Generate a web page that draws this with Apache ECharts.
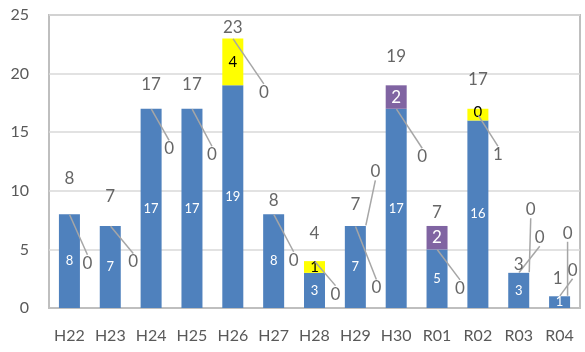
<!DOCTYPE html>
<html>
<head>
<meta charset="utf-8">
<script src="https://cdn.jsdelivr.net/npm/echarts@6/dist/echarts.min.js"></script>
<style>
  html, body { margin: 0; padding: 0; background: #fff; }
  #chart { width: 585px; height: 352px; }
</style>
</head>
<body>
<div id="chart"></div>
<script>
  const categories = ['H22', 'H23', 'H24', 'H25', 'H26', 'H27', 'H28', 'H29', 'H30', 'R01', 'R02', 'R03', 'R04'];
  const blueValues = [8, 7, 17, 17, 19, 8, 3, 7, 17, 5, 16, 3, 1];
  const yellowValues = [0, 0, 0, 0, 4, 0, 1, 0, 0, 0, 0, 0, 0];
  const calloutValues = [0, 0, 0, 0, 0, 0, 0, 0, 0, 0, 1, 0, 0];
  const purpleValues = [0, 0, 0, 0, 0, 0, 0, 0, 2, 2, 0, 0, 0];
  const extraValues = [null, null, null, null, null, null, null, 0, null, null, null, 0, 0];
  const yMin = 0, yMax = 25, yStep = 5;

  const totals = categories.map((c, i) => blueValues[i] + yellowValues[i] + calloutValues[i] + purpleValues[i]);
  // callout labels hang from the middle of their (mostly empty) segment
  const calloutAnchor = categories.map((c, i) => blueValues[i] + yellowValues[i] + calloutValues[i] / 2);
  // the extra zero labels hang from the top of the full stack
  const extraAnchor = extraValues.map((v, i) => (v === null ? null : totals[i] + v));

  // label nudges (px) to follow the original's label placement
  const totalShift = [[0, -36], [0, -29], [0, -24], [0, -24], [0, -11], [0, -14], [0, -28], [0, -21], [0, -29], [0, -13], [0, -29], [0, -8], [-2, -18]];
  const calloutShift = [[18, 49], [23, 36], [18, 40], [20, 46], [31, 54], [20, 46], [21, 33], [21, 62], [26, 48], [23, 39], [20, 40], [21, -35], [13, -26]];
  const extraShift = { 7: [20, -54], 11: [12, -63], 12: [8, -63] };

  const font = 'Lato, "Liberation Sans", sans-serif';
  const leader = { show: true, lineStyle: { color: '#a6a6a6', width: 1.5 } };
  const darkLabel = { color: '#404040', fontSize: 17, fontFamily: font, textBorderWidth: 0 };

  const chart = echarts.init(document.getElementById('chart'));
  chart.setOption({
    animation: false,
    backgroundColor: '#fff',
    textStyle: { fontFamily: font },
    grid: {
      left: 49, right: 5, top: 15, bottom: 44,
      show: true, borderColor: '#bfbfbf', borderWidth: 2
    },
    xAxis: {
      type: 'category',
      data: categories,
      axisTick: { show: false },
      axisLine: { lineStyle: { color: '#bfbfbf', width: 2 } },
      axisLabel: { color: '#595959', fontSize: 16, margin: 20, fontFamily: font }
    },
    yAxis: {
      type: 'value',
      min: yMin, max: yMax, interval: yStep,
      axisLine: { show: false },
      axisTick: { show: false },
      axisLabel: { color: '#595959', fontSize: 16, margin: 20, fontFamily: font },
      splitLine: { lineStyle: { color: '#d9d9d9', width: 1.5 } }
    },
    series: [
      {
        name: 'blue', type: 'bar', stack: 'a', barWidth: 21,
        data: blueValues,
        itemStyle: { color: '#4f81bd' },
        label: { show: true, position: 'inside', color: '#fff', fontSize: 13, fontFamily: font }
      },
      {
        name: 'yellow', type: 'bar', stack: 'a',
        data: yellowValues.map((v, i) => ({
          value: v,
          label: { show: v > 0 || calloutValues[i] > 0 }
        })),
        itemStyle: { color: '#ffff00' },
        label: { position: 'inside', color: '#000', fontSize: 15, fontFamily: font },
        labelLayout: p => (yellowValues[p.dataIndex] === 0 ? { dy: -8 } : {})
      },
      {
        name: 'callout', type: 'bar', stack: 'a',
        data: calloutValues,
        itemStyle: { color: '#ffff00' }
      },
      {
        name: 'purple', type: 'bar', stack: 'a',
        data: purpleValues.map(v => ({ value: v, label: { show: v > 0 } })),
        itemStyle: { color: '#8064a2' },
        label: { position: 'inside', color: '#fff', fontSize: 17, fontFamily: font }
      },
      {
        name: 'extra', type: 'scatter',
        data: extraAnchor,
        symbol: 'rect',
        symbolSize: [21, 1],
        itemStyle: { color: 'rgba(0,0,0,0)' },
        label: Object.assign({
          show: true, position: 'inside',
          formatter: p => String(extraValues[p.dataIndex])
        }, darkLabel),
        labelLine: leader,
        labelLayout: p => {
          const s = extraShift[p.dataIndex] || [0, 0];
          return { dx: s[0], dy: s[1] };
        }
      },
      {
        name: 'calloutLabel', type: 'scatter',
        data: calloutAnchor,
        symbolSize: 1,
        itemStyle: { color: 'rgba(0,0,0,0)' },
        label: Object.assign({
          show: true, position: 'inside',
          formatter: p => String(calloutValues[p.dataIndex])
        }, darkLabel),
        labelLine: leader,
        labelLayout: p => ({ dx: calloutShift[p.dataIndex][0], dy: calloutShift[p.dataIndex][1] })
      },
      {
        name: 'total', type: 'scatter',
        data: totals,
        symbolSize: 1,
        itemStyle: { color: 'rgba(0,0,0,0)' },
        label: Object.assign({ show: true, position: 'inside' }, darkLabel),
        labelLayout: p => ({ dx: totalShift[p.dataIndex][0], dy: totalShift[p.dataIndex][1] })
      }
    ]
  });
</script>
</body>
</html>
